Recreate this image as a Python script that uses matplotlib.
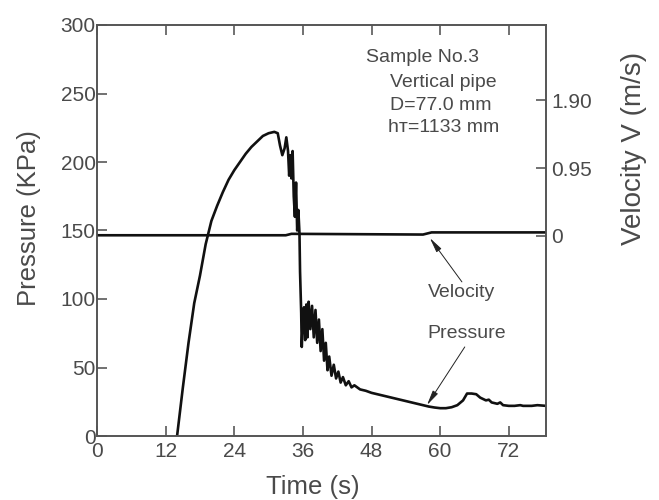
import matplotlib
matplotlib.use("Agg")
import matplotlib.pyplot as plt

plt.rcParams['font.family'] = ['Liberation Sans', 'DejaVu Sans']

# pressure trace (s, KPa)
t_p = [14.0, 15.0, 16.0, 17.0, 18.0, 19.0, 20.0, 21.0, 22.0, 23.0, 24.0, 25.0,
       26.0, 27.0, 28.0, 29.0, 30.0, 31.0, 31.6, 32.0, 32.4, 32.8, 33.1, 33.4,
       33.6, 33.8, 34.0, 34.2, 34.4, 34.6, 34.8, 35.0, 35.2, 35.4, 35.5, 35.7,
       35.8, 36.0, 36.2, 36.4, 36.6, 36.8, 37.0, 37.3, 37.6, 37.9, 38.2, 38.5,
       38.8, 39.1, 39.4, 39.7, 40.0, 40.3, 40.6, 41.0, 41.4, 41.8, 42.2, 42.6,
       43.0, 43.5, 44.0, 44.5, 45.0, 46.0, 47.0, 48.0, 49.0, 50.0, 51.0, 52.0,
       53.0, 54.0, 55.0, 56.0, 57.0, 58.0, 59.0, 60.0, 61.0, 62.0, 63.0, 64.0,
       64.7, 65.5, 66.3, 67.0, 67.5, 68.0, 68.5, 69.0, 70.0, 70.5, 71.0, 72.0,
       73.0, 74.0, 74.5, 76.0, 77.0, 78.5]
p = [0, 35, 68, 97, 117, 140, 157, 168, 178, 187, 194, 200,
     206, 211, 215, 219, 221, 222, 221, 212, 205, 210, 218, 208,
     190, 205, 188, 208, 175, 160, 185, 150, 165, 148, 120, 90,
     65, 85, 94, 70, 96, 72, 98, 78, 95, 72, 92, 68,
     85, 62, 78, 55, 68, 48, 58, 44, 52, 42, 47, 39,
     43, 37, 40, 35.5, 37, 34, 33, 31.5, 30.5, 29.5, 28.5, 27.5,
     26.5, 25.5, 24.5, 23.5, 22.5, 21.5, 20.8, 20.3, 20.3, 21, 22.5, 26,
     31, 31, 30.5, 28, 27, 26, 26.5, 24.5, 23.5, 24.5, 22.5, 22,
     22, 22.5, 22, 22, 22.5, 22]

# velocity trace (s, m/s)
t_v = [0, 33.0, 34.0, 57.0, 58.5, 78.5]
v = [0.01, 0.01, 0.03, 0.02, 0.05, 0.05]

x_ticks = [0, 12, 24, 36, 48, 60, 72]
p_ticks = [0, 50, 100, 150, 200, 250, 300]
v_ticks = [0, 0.95, 1.90]
v_tick_labels = ['0', '0.95', '1.90']

info_lines = ['Sample No.3', 'Vertical pipe', 'D=77.0 mm', 'hт=1133 mm']

gray = '#4a4a4a'

fig = plt.figure(figsize=(6.59, 5.0), dpi=100)
ax = fig.add_axes([0.1472, 0.128, 0.6813, 0.822])
ax2 = ax.twinx()

ax.plot(t_p, p, color='#111111', lw=1.9)
ax.set_xlim(0, 78.5)
ax.set_ylim(0, 300)
ax.set_xticks(x_ticks)
ax.set_yticks(p_ticks)
ax.tick_params(axis='x', direction='in', length=7, top=True, labelsize=15,
               colors=gray, pad=4, width=1.1)
ax.tick_params(axis='y', direction='in', length=7, labelsize=15,
               colors=gray, pad=1, width=1.1)

# right axis: velocity, 0 sits at ~146 KPa, 0.95 m/s per ~49.6 KPa
p0, scale = 146.0, 49.6 / 0.95
ax2.set_ylim((0 - p0) / scale, (300 - p0) / scale)
ax2.plot(t_v, v, color='#111111', lw=1.9)
ax2.set_yticks(v_ticks)
ax2.set_yticklabels(v_tick_labels)
ax2.tick_params(axis='y', direction='in', length=7, labelsize=15,
                colors=gray, pad=4, width=1.1)

for a in (ax, ax2):
    for s in a.spines.values():
        s.set_color('#555555')
        s.set_linewidth(1.2)

ax.set_xlabel('Time (s)', fontsize=18.5, color=gray)
ax.xaxis.set_label_coords(0.48, -0.095)
ax.set_ylabel('Pressure (KPa)', fontsize=18.5, color=gray)
ax.yaxis.set_label_coords(-0.125, 0.53)
ax2.set_ylabel('Velocity V (m/s)', fontsize=20, color=gray)
ax2.yaxis.set_label_coords(1.168, 0.70)

# info block
ax.text(47.0, 276, info_lines[0], fontsize=14, color=gray, va='center')
ax.text(51.2, 258, info_lines[1], fontsize=14, color=gray, va='center')
ax.text(51.2, 241, info_lines[2], fontsize=14, color=gray, va='center')
ax.text(50.9, 225, info_lines[3], fontsize=14, color=gray, va='center')

arrow = dict(arrowstyle='-|>,head_length=0.9,head_width=0.18', color='#222222',
             lw=0.7, shrinkA=0, shrinkB=0)
ax.annotate('', xy=(58.2, 144.5), xytext=(63.8, 112.5), arrowprops=arrow)
ax.text(63.8, 105, 'Velocity', fontsize=14, color=gray, ha='center', va='center')
ax.annotate('', xy=(57.7, 22.6), xytext=(64.3, 65), arrowprops=arrow)
ax.text(64.7, 75, 'Pressure', fontsize=14, color=gray, ha='center', va='center')

fig.savefig('out.png', dpi=100)
